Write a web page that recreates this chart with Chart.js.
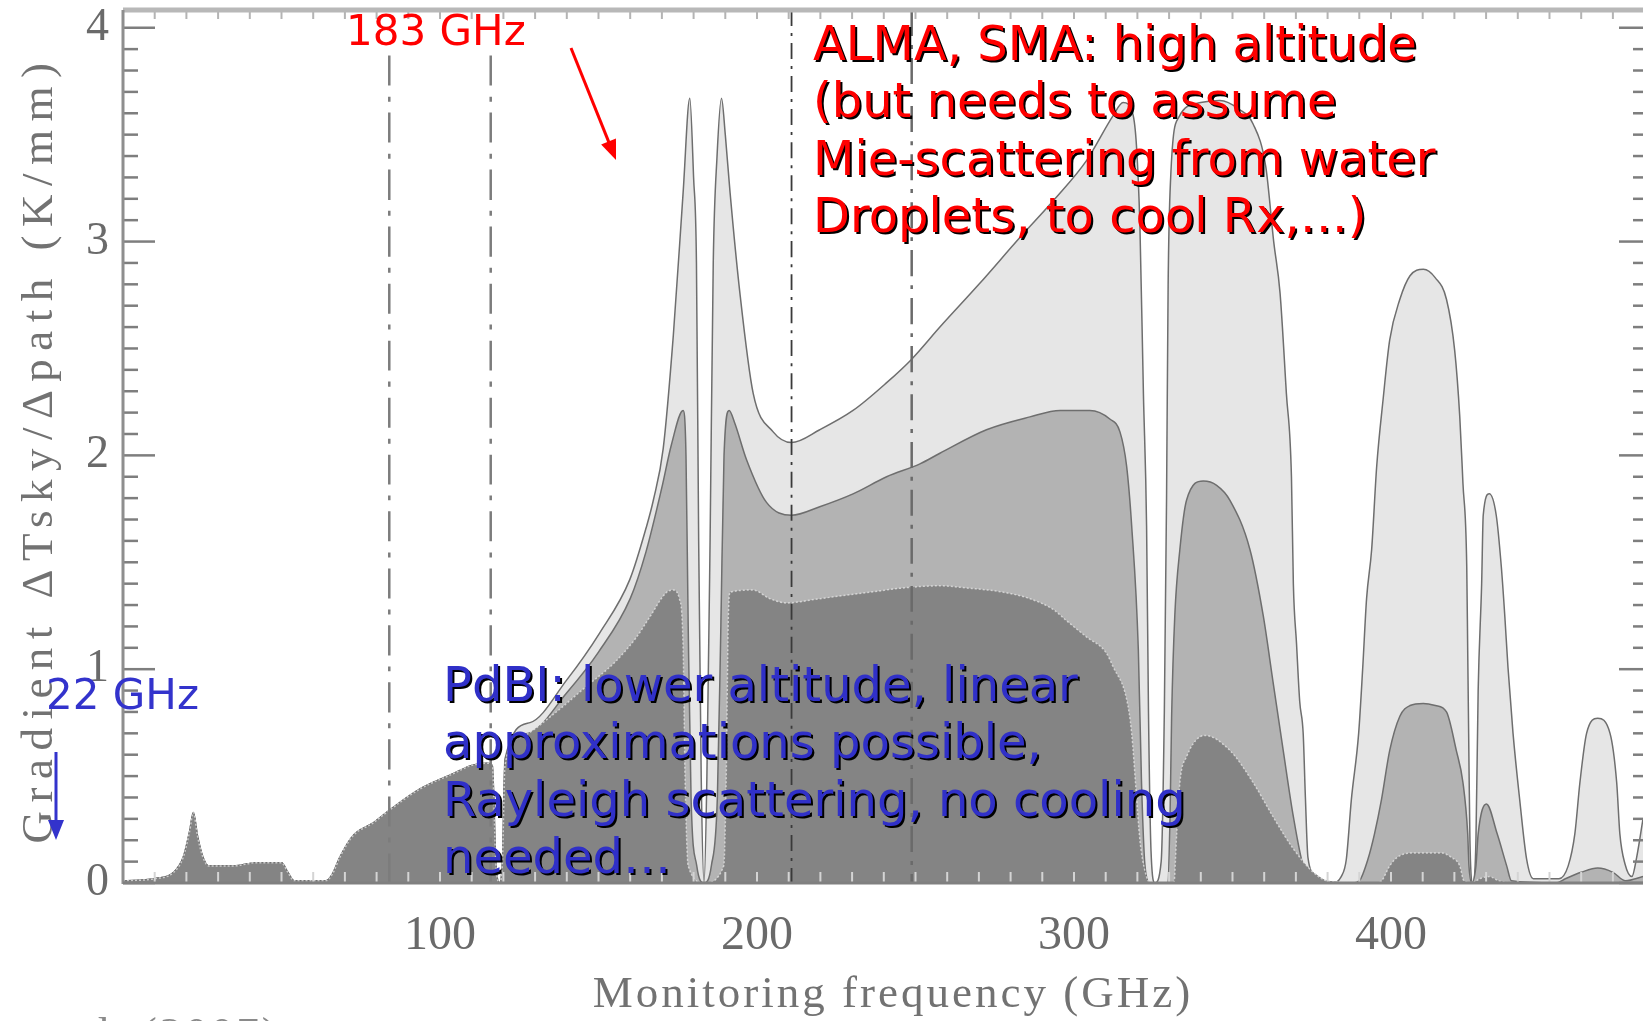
<!DOCTYPE html>
<html>
<head>
<meta charset="utf-8">
<script src="https://cdn.jsdelivr.net/npm/chart.js@4.4.1/dist/chart.umd.min.js"></script>
<style>
  html, body { margin: 0; padding: 0; background: #fff; }
  #wrap { width: 1643px; height: 1021px; }
</style>
</head>
<body>
<div id="wrap"><canvas id="gradient-chart" width="1643" height="1021"></canvas></div>
<script>
// Curves: [frequency (GHz), gradient (K/mm)]
const lightCurve = [
    [0, 0.01], [10, 0.02], [16, 0.05], [19, 0.12], [21, 0.24], [22.2, 0.33], [23.5, 0.22], [25, 0.13], [27, 0.08],
    [35, 0.08], [42, 0.095], [50, 0.095], [52, 0.05], [54, 0.01], [64, 0.01], [66, 0.04], [68.4, 0.12], [72.5, 0.22],
    [78.8, 0.28], [84, 0.34], [93.7, 0.44], [104, 0.51], [110, 0.55], [115, 0.56], [116.5, 0.55], [117.6, 0.1],
    [118.75, 0], [119.7, 0.1], [120.5, 0.58], [128.4, 0.75], [140, 0.95], [150.4, 1.17], [159.9, 1.42], [165.2, 1.67],
    [167.3, 1.79], [170.4, 2.03], [173.6, 2.56], [176.7, 3.23], [178.8, 3.67], [180, 3.3], [180.9, 2.9], [181.6, 1.6],
    [182.4, 0.5], [183.3, 0], [184.2, 0.5], [185.2, 1.6], [186.2, 2.9], [187.4, 3.4], [188.8, 3.67], [190, 3.5],
    [191.5, 3.23], [194.6, 2.76], [198.8, 2.29], [205.1, 2.11], [210.9, 2.06], [219.8, 2.12], [230.3, 2.21],
    [240.9, 2.34], [248.8, 2.45], [257.7, 2.6], [270, 2.8], [283, 3.02], [294, 3.2], [304, 3.38], [312.4, 3.59],
    [315.5, 3.65], [318.5, 3.6], [319.7, 3.45], [320.8, 3.07], [321.9, 2.29], [322.9, 1.67], [323.5, 0.8],
    [324.3, 0.15], [325.5, 0], [327.5, 0.1], [328.5, 0.8], [329.2, 1.8], [329.7, 2.8], [330.5, 3.3], [333, 3.58],
    [340, 3.65], [346, 3.66], [352, 3.62], [356.5, 3.55], [360.5, 3.35], [363, 3.0], [365, 2.76], [367, 2.29],
    [368.6, 1.9], [369.2, 1.4], [370.2, 1.12], [371.2, 0.85], [372.3, 0.7], [373, 0.4], [373.8, 0.12], [376, 0.04],
    [381.5, 0], [384.3, 0.03], [385.9, 0.11], [387.5, 0.39], [389.8, 0.7], [391.1, 1.01], [392.3, 1.33],
    [393.9, 1.56], [395.5, 1.95], [397.5, 2.26], [399.6, 2.54], [402.8, 2.73], [406, 2.84], [410.2, 2.87],
    [414, 2.83], [417.5, 2.73], [420.1, 2.49], [421.7, 2.18], [422.7, 1.87], [423.9, 1.48], [424.2, 1.09],
    [424.5, 0.7], [424.9, 0.2], [425.8, 0], [426.8, 0.2], [427.5, 0.9], [428.6, 1.4], [429.1, 1.72], [431, 1.82],
    [433.2, 1.72], [434.8, 1.48], [435.9, 1.25], [436.9, 1.01], [438.5, 0.7], [440.6, 0.39], [442.8, 0.11],
    [444.9, 0.02], [453, 0.02], [455.9, 0.08], [458, 0.23], [459.6, 0.47], [461.7, 0.7], [465.2, 0.77],
    [469.1, 0.7], [471.2, 0.47], [472.2, 0.23], [473.8, 0.09], [476, 0.03], [477.5, 0.12], [479.5, 0.3]
];

const mediumCurve = [
    [0, 0.01], [10, 0.02], [16, 0.05], [19, 0.12], [21, 0.24], [22.2, 0.33], [23.5, 0.22], [25, 0.13], [27, 0.08],
    [35, 0.08], [42, 0.095], [50, 0.095], [52, 0.05], [54, 0.01], [64, 0.01], [66, 0.04], [68.4, 0.12], [72.5, 0.22],
    [78.8, 0.28], [84, 0.34], [93.7, 0.44], [104, 0.51], [110, 0.55], [115, 0.56], [116.5, 0.55], [117.6, 0.1],
    [118.75, 0], [119.7, 0.1], [120.5, 0.55], [128, 0.7], [140, 0.89], [150, 1.08], [160, 1.33], [165, 1.55],
    [170, 1.85], [173, 2.05], [176.7, 2.21], [177.6, 2.0], [178.3, 1.2], [179.2, 0.4], [181, 0.08], [183.3, 0],
    [185.6, 0.08], [187.5, 0.4], [188.6, 1.2], [189.6, 2.0], [191.2, 2.21], [193, 2.15], [196.7, 1.98], [203, 1.78],
    [210.9, 1.72], [219.8, 1.76], [230.3, 1.82], [240.9, 1.9], [251.4, 1.96], [257.7, 2.01], [272.4, 2.12],
    [286.1, 2.18], [295.6, 2.21], [305, 2.21], [311.3, 2.17], [314.5, 2.11], [316.6, 1.95], [318.2, 1.67],
    [320.3, 1.09], [321.3, 0.47], [322.4, 0.08], [324, 0], [329.5, 0], [330.3, 0.31], [330.8, 0.78], [331.8, 1.25],
    [333.4, 1.56], [335.5, 1.79], [340.8, 1.88], [345, 1.86], [349.2, 1.79], [355.5, 1.56], [359.7, 1.25],
    [362.8, 0.94], [366, 0.62], [369.2, 0.31], [372.3, 0.08], [375, 0.02], [388, 0], [390, 0.01], [392.7, 0.11],
    [394.8, 0.23], [397, 0.39], [399.6, 0.62], [402.8, 0.78], [406, 0.83], [410.2, 0.84], [414, 0.83], [417.5, 0.8],
    [420.6, 0.62], [422.7, 0.47], [424.2, 0.23], [424.6, 0.08], [425.5, 0], [426.8, 0.08], [427.5, 0.23],
    [430.1, 0.37], [433.5, 0.23], [436.5, 0.08], [438, 0.01], [452, 0], [455, 0.02], [460, 0.05], [465.2, 0.07],
    [470, 0.05], [474, 0.01], [479.5, 0.03]
];

const darkCurve = [
    [0, 0.01], [10, 0.02], [16, 0.05], [19, 0.12], [21, 0.24], [22.2, 0.33], [23.5, 0.22], [25, 0.13], [27, 0.08],
    [35, 0.08], [42, 0.095], [50, 0.095], [52, 0.05], [54, 0.01], [64, 0.01], [66, 0.04], [68.4, 0.12], [72.5, 0.22],
    [78.8, 0.28], [84, 0.34], [93.7, 0.44], [104, 0.51], [110, 0.55], [115, 0.56], [116.5, 0.55], [117.6, 0.1],
    [118.75, 0], [119.7, 0.1], [120.5, 0.55], [125.2, 0.68], [135, 0.78], [146.2, 0.92], [155, 1.03], [162, 1.15],
    [166, 1.24], [171.5, 1.36], [173.6, 1.37], [175.5, 1.33], [176.7, 1.1], [177.3, 0.5], [178.3, 0.08], [183.3, 0],
    [189.5, 0.08], [190.3, 0.5], [190.9, 1.2], [191.5, 1.36], [198.8, 1.37], [204, 1.33], [209.3, 1.31],
    [219.8, 1.33], [235.6, 1.36], [246.1, 1.38], [257.7, 1.39], [266, 1.38], [277.7, 1.36], [286, 1.33],
    [293.4, 1.28], [297.4, 1.23], [304, 1.15], [310, 1.08], [312.4, 1.01], [316.6, 0.86], [318.2, 0.7],
    [319.5, 0.45], [320.8, 0.2], [322.5, 0.05], [324, 0], [331.5, 0], [332.4, 0.23], [333.4, 0.47], [335.5, 0.59],
    [341.3, 0.69], [349.2, 0.62], [356.5, 0.47], [362.8, 0.31], [369.2, 0.16], [375.5, 0.05], [380, 0.01],
    [395, 0], [397, 0.01], [399.6, 0.08], [402, 0.12], [406, 0.14], [416, 0.14], [419, 0.12], [421.7, 0.08],
    [423, 0.01], [425.5, 0], [428, 0.02], [431, 0.03], [434, 0.01], [440, 0], [479.5, 0]
];

// Dash-dot monitoring lines: frequency and top of the line
const markerFreqs = [84, 116, 210.9, 248.8];
const markerTops = [3.87, 3.87, 4.1, 4.1];

// Axis ticks
const xTickLabels = [100, 200, 300, 400];
const yTickLabels = [0, 1, 2, 3, 4];

const X_MAX = 479.5;
const Y_MAX = 4.083;

const AXIS_FONT = '"Liberation Serif", "DejaVu Serif", serif';
const NOTE_FONT = '"DejaVu Sans", Verdana, sans-serif';

function toPoints(curve) {
    return curve.map(p => ({ x: p[0], y: p[1] }));
}

// Line styles for the four marker lines
const markerStyles = [
    { color: '#7c7c7c', width: 2.5, dash: [30, 11, 5, 11] },
    { color: '#7c7c7c', width: 2.5, dash: [30, 11, 5, 11] },
    { color: '#3a3a3a', width: 1.8, dash: [16, 7, 3, 7] },
    { color: '#6a6a6a', width: 2.5, dash: [26, 9, 4, 9] }
];

function buildDatasets() {
    const sets = [
        {
            label: 'light',
            data: toPoints(lightCurve),
            backgroundColor: '#e6e6e6',
            borderColor: '#6e6e6e',
            borderWidth: 1.5,
            fill: 'origin',
            order: 3
        },
        {
            label: 'medium',
            data: toPoints(mediumCurve),
            backgroundColor: '#b3b3b3',
            borderColor: '#6e6e6e',
            borderWidth: 1.5,
            fill: 'origin',
            order: 2
        },
        {
            label: 'dark',
            data: toPoints(darkCurve),
            backgroundColor: '#848484',
            borderColor: 'rgba(230,230,230,0.75)',
            borderWidth: 1.5,
            borderDash: [2, 2],
            fill: 'origin',
            order: 1
        }
    ];

    markerFreqs.forEach((f, i) => {
        const st = markerStyles[i];
        sets.push({
            label: 'marker' + i,
            data: [{ x: f, y: Math.min(markerTops[i], Y_MAX) }, { x: f, y: 0 }],
            borderColor: st.color,
            borderWidth: st.width,
            borderDash: st.dash,
            cubicInterpolationMode: 'default',
            fill: false,
            order: 0
        });
    });
    return sets;
}

function strokeLine(ctx, x1, y1, x2, y2) {
    ctx.beginPath();
    ctx.moveTo(x1, y1);
    ctx.lineTo(x2, y2);
    ctx.stroke();
}

function drawArrow(ctx, x1, y1, x2, y2, color) {
    const ang = Math.atan2(y2 - y1, x2 - x1);
    const head = 20;
    ctx.strokeStyle = color;
    ctx.fillStyle = color;
    ctx.lineWidth = 3;
    strokeLine(ctx, x1, y1, x2 - Math.cos(ang) * head * 0.6, y2 - Math.sin(ang) * head * 0.6);
    ctx.beginPath();
    ctx.moveTo(x2, y2);
    ctx.lineTo(x2 - head * Math.cos(ang) + 8 * Math.sin(ang), y2 - head * Math.sin(ang) - 8 * Math.cos(ang));
    ctx.lineTo(x2 - head * Math.cos(ang) - 8 * Math.sin(ang), y2 - head * Math.sin(ang) + 8 * Math.cos(ang));
    ctx.closePath();
    ctx.fill();
}

function drawNote(ctx, lines, x, y, lineHeight, color, shadow) {
    ctx.fillStyle = color;
    ctx.textAlign = 'left';
    ctx.textBaseline = 'alphabetic';
    if (shadow) {
        ctx.shadowColor = '#000';
        ctx.shadowOffsetX = 2;
        ctx.shadowOffsetY = 2;
        ctx.shadowBlur = 0;
    }
    lines.forEach((t, i) => ctx.fillText(t, x, y + i * lineHeight));
    ctx.shadowColor = 'transparent';
    ctx.shadowOffsetX = 0;
    ctx.shadowOffsetY = 0;
}

// Frame, inward ticks and the axis titles
const framePlugin = {
    id: 'framePlugin',
    afterDatasetsDraw(chart) {
        const { ctx, chartArea: a, scales: { x, y } } = chart;
        ctx.save();
        ctx.setLineDash([]);

        // y ticks every 0.1, on both sides
        ctx.strokeStyle = '#7e7e7e';
        ctx.lineWidth = 2.5;
        for (let i = 0; i <= Math.floor(Y_MAX * 10); i++) {
            const py = y.getPixelForValue(i / 10);
            const major = i % 10 === 0;
            strokeLine(ctx, a.left, py, a.left + (major ? 32 : 15), py);
            strokeLine(ctx, a.right, py, a.right - (major ? 24 : 10), py);
        }

        // x ticks every 10 GHz, bottom and top
        for (let f = 10; f < X_MAX; f += 10) {
            const px = x.getPixelForValue(f);
            ctx.strokeStyle = '#d4d4d4';
            ctx.lineWidth = 2;
            strokeLine(ctx, px, a.bottom, px, a.bottom - 11);
            ctx.strokeStyle = '#b4b4b4';
            strokeLine(ctx, px, a.top, px, a.top + 9);
        }

        // axis lines
        ctx.strokeStyle = '#b8b8b8';
        ctx.lineWidth = 5;
        strokeLine(ctx, a.left, a.top, a.right, a.top);
        ctx.strokeStyle = '#8e8e8e';
        ctx.lineWidth = 3;
        strokeLine(ctx, a.left, a.top, a.left, a.bottom + 1);
        ctx.strokeStyle = '#808080';
        strokeLine(ctx, a.left, a.bottom, a.right, a.bottom);
        ctx.restore();
    },
    afterDraw(chart) {
        const { ctx } = chart;
        ctx.save();

        // axis titles
        ctx.fillStyle = '#727272';
        ctx.font = '45px ' + AXIS_FONT;
        ctx.textAlign = 'center';
        ctx.textBaseline = 'alphabetic';
        ctx.letterSpacing = '3px';
        ctx.fillText('Monitoring frequency (GHz)', 893, 1007);

        ctx.save();
        ctx.translate(52, 449);
        ctx.rotate(-Math.PI / 2);
        ctx.letterSpacing = '8.5px';
        ctx.fillText('Gradient \u0394Tsky/\u0394path (K/mm)', 0, 0);
        ctx.restore();

        // cut-off reference at the bottom left
        ctx.letterSpacing = '3px';
        ctx.textAlign = 'left';
        ctx.textBaseline = 'top';
        ctx.fillStyle = '#8a8a8a';
        ctx.fillText('et al. (2007)', 22, 1014);
        ctx.letterSpacing = '0px';

        // annotations
        ctx.font = '42px ' + NOTE_FONT;
        drawNote(ctx, ['183 GHz'], 346, 45, 0, '#ff0000', false);
        drawArrow(ctx, 571, 48, 616, 160, '#ff0000');

        drawNote(ctx, ['22 GHz'], 46, 709, 0, '#3333cc', false);
        drawArrow(ctx, 56, 752, 56, 840, '#3333cc');

        ctx.font = '48px ' + NOTE_FONT;
        drawNote(ctx, [
            'ALMA, SMA: high altitude',
            '(but needs to assume',
            'Mie-scattering from water',
            'Droplets, to cool Rx,\u2026)'
        ], 813, 60, 57.3, '#ff0000', true);

        drawNote(ctx, [
            'PdBI: lower altitude, linear',
            'approximations possible,',
            'Rayleigh scattering, no cooling',
            'needed\u2026'
        ], 443, 701, 57.3, '#3030c8', true);

        ctx.restore();
    }
};

function initChart() {
    const ctx = document.getElementById('gradient-chart');
    new Chart(ctx, {
        type: 'line',
        data: { datasets: buildDatasets() },
        options: {
            responsive: false,
            devicePixelRatio: 1,
            animation: false,
            layout: { padding: { top: 10, right: 0, bottom: 0, left: 0 } },
            elements: {
                point: { radius: 0 },
                line: { tension: 0.4, cubicInterpolationMode: 'monotone' }
            },
            plugins: {
                legend: { display: false },
                tooltip: { enabled: false }
            },
            scales: {
                x: {
                    type: 'linear',
                    min: 0,
                    max: X_MAX,
                    grid: { display: false, drawTicks: false },
                    border: { display: false },
                    afterFit: scale => {
                        scale.height = 138;
                        scale.paddingLeft = 0;
                        scale.paddingRight = 0;
                    },
                    ticks: {
                        stepSize: 100,
                        includeBounds: false,
                        autoSkip: false,
                        maxRotation: 0,
                        padding: 25,
                        color: '#6a6a6a',
                        font: { family: AXIS_FONT, size: 48 },
                        callback: v => xTickLabels.includes(v) ? String(v) : ''
                    }
                },
                y: {
                    type: 'linear',
                    min: 0,
                    max: Y_MAX,
                    grid: { display: false, drawTicks: false },
                    border: { display: false },
                    afterFit: scale => {
                        scale.width = 123;
                        scale.paddingTop = 0;
                        scale.paddingBottom = 0;
                    },
                    ticks: {
                        stepSize: 1,
                        includeBounds: false,
                        padding: 14,
                        color: '#6a6a6a',
                        font: { family: AXIS_FONT, size: 46 },
                        callback: v => yTickLabels.includes(v) ? String(v) : ''
                    }
                }
            }
        },
        plugins: [framePlugin]
    });
}

initChart();
</script>
</body>
</html>
